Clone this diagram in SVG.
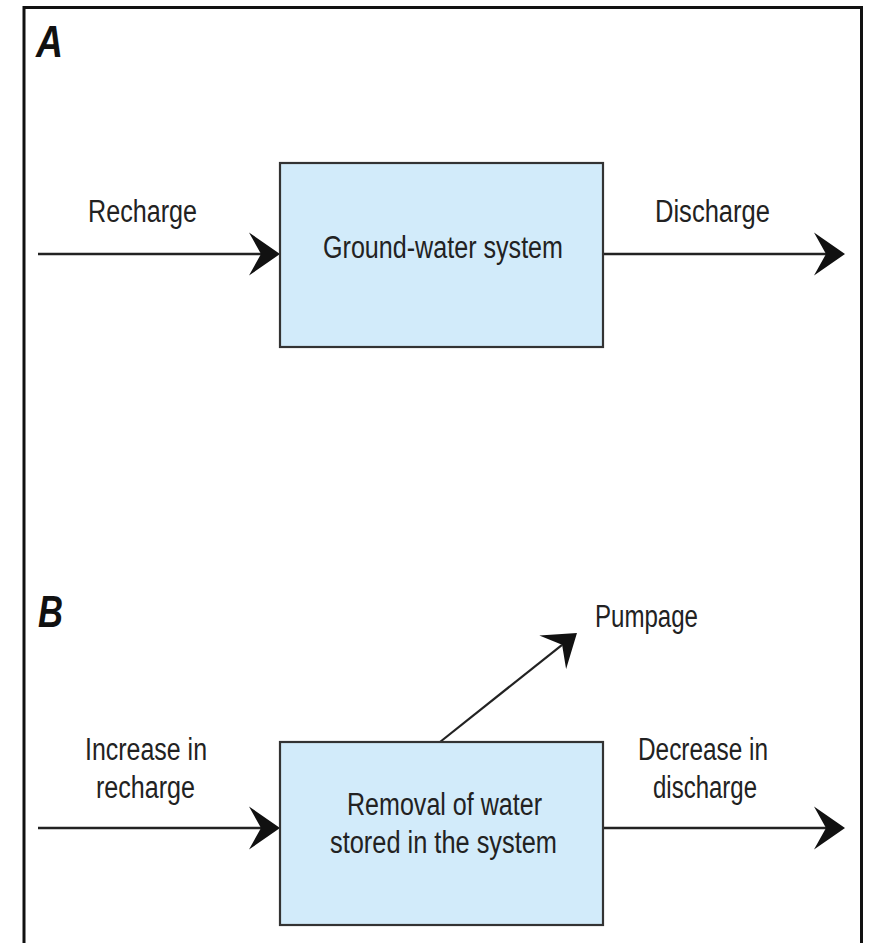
<svg xmlns="http://www.w3.org/2000/svg" width="871" height="943" viewBox="0 0 871 943">
<style>
.lbl{font-family:"Liberation Sans",Arial,sans-serif;font-size:31px;fill:#222}
.pl{font-family:"Liberation Sans",Arial,sans-serif;font-size:45px;font-weight:bold;font-style:italic;fill:#111}
.box{fill:#d2ebfa;stroke:#333;stroke-width:2.2}
.con{stroke:#222;stroke-width:2.6;fill:none;marker-end:url(#ah)}
</style>
<defs>
<marker id="ah" markerUnits="userSpaceOnUse" viewBox="0 -22 32 44" markerWidth="32" markerHeight="44" refX="12" refY="0" orient="auto">
<path d="M31,0 L0,-21.5 L12,0 L0,21.5 Z" fill="#111"/>
</marker>
</defs>
<rect width="871" height="943" fill="#fff"/>
<path d="M24,943 L24,7.5 L861.5,7.5 L861.5,943" fill="none" stroke="#111" stroke-width="3"/>
<g id="panel-labels">
<text class="pl" x="36" y="57" textLength="27" lengthAdjust="spacingAndGlyphs">A</text>
<text class="pl" x="38" y="627" textLength="25" lengthAdjust="spacingAndGlyphs">B</text>
</g>
<g id="connectors">
<line class="con" x1="38" y1="254" x2="261" y2="254"/>
<line class="con" x1="603" y1="254" x2="826" y2="254"/>
<line class="con" x1="38" y1="828" x2="261" y2="828"/>
<line class="con" x1="603" y1="828" x2="826" y2="828"/>
<line class="con" x1="440" y1="742" x2="562.1" y2="644.8" style="stroke-width:2.2"/>
</g>
<g id="node-gws">
<rect class="box" x="280" y="163" width="323" height="184"/>
<text class="lbl" x="323" y="258" textLength="240" lengthAdjust="spacingAndGlyphs">Ground-water system</text>
</g>
<g id="node-removal">
<rect class="box" x="280" y="742" width="323" height="183"/>
<text class="lbl" x="347" y="815" textLength="195" lengthAdjust="spacingAndGlyphs">Removal of water</text>
<text class="lbl" x="330" y="853" textLength="227" lengthAdjust="spacingAndGlyphs">stored in the system</text>
</g>
<g id="labels">
<text class="lbl" x="88" y="222" textLength="109" lengthAdjust="spacingAndGlyphs">Recharge</text>
<text class="lbl" x="655" y="222" textLength="115" lengthAdjust="spacingAndGlyphs">Discharge</text>
<text class="lbl" x="85" y="760" textLength="122" lengthAdjust="spacingAndGlyphs">Increase in</text>
<text class="lbl" x="96" y="798" textLength="99" lengthAdjust="spacingAndGlyphs">recharge</text>
<text class="lbl" x="638" y="760" textLength="130" lengthAdjust="spacingAndGlyphs">Decrease in</text>
<text class="lbl" x="653" y="798" textLength="104" lengthAdjust="spacingAndGlyphs">discharge</text>
<text class="lbl" x="595" y="627" textLength="103" lengthAdjust="spacingAndGlyphs">Pumpage</text>
</g>
</svg>
